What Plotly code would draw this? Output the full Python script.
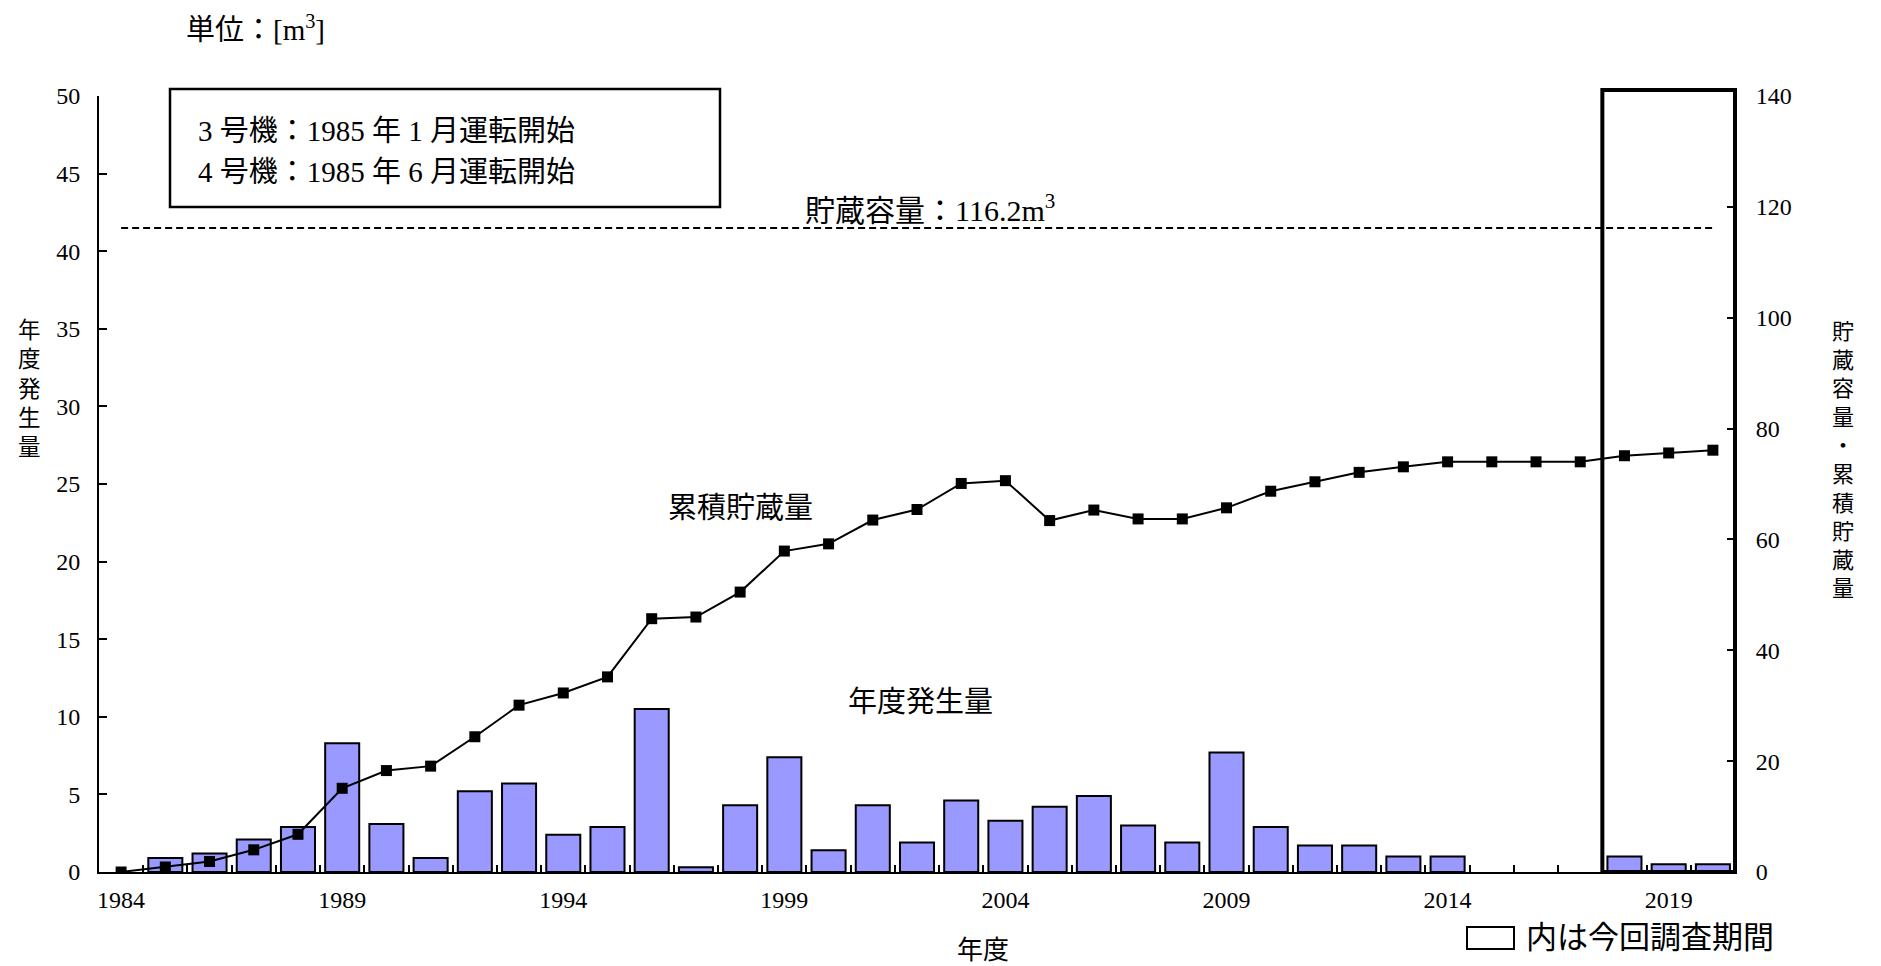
import plotly.graph_objects as go

# ---------------- data ----------------
years = list(range(1984, 2021))
annual = [0, 0.9, 1.2, 2.1, 2.9, 8.3, 3.1, 0.9, 5.2, 5.7,
          2.4, 2.9, 10.5, 0.3, 4.3, 7.4, 1.4, 4.3, 1.9, 4.6,
          3.3, 4.2, 4.9, 3.0, 1.9, 7.7, 2.9, 1.7, 1.7, 1.0,
          1.0, 0, 0, 0, 1.0, 0.5, 0.5]
cumulative = [0, 0.9, 1.9, 4.0, 6.8, 15.1, 18.3, 19.1, 24.4, 30.1,
              32.3, 35.2, 45.7, 46.0, 50.5, 57.9, 59.2, 63.5, 65.4, 70.1,
              70.6, 63.4, 65.3, 63.7, 63.7, 65.7, 68.7, 70.4, 72.1, 73.1,
              74.0, 74.0, 74.0, 74.0, 75.1, 75.6, 76.1]
capacity = 116.2
capacity_years = [1984, 2020]
x_tick_years = [1984, 1989, 1994, 1999, 2004, 2009, 2014, 2019]
left_ticks = [0, 5, 10, 15, 20, 25, 30, 35, 40, 45, 50]
right_ticks = [0, 20, 40, 60, 80, 100, 120, 140]
survey_start, survey_end = 2017.5, 2020.5

# ---------------- layout constants ----------------
W, H = 1881, 966
L, T, R, B = 99, 96, 146, 94
PW, PH = W - L - R, H - T - B
XR = [1983.5, 2020.5]
Y1R = [0, 50]
Y2R = [0, 140]

def fx(p):
    return (p - L) / PW

def fy(p):
    return (T + PH - p) / PH

SERIF = "Liberation Serif, Noto Sans CJK JP"

fig = go.Figure()
fig.add_trace(go.Bar(x=years, y=annual, width=0.77,
                     marker=dict(color="#9999FF",
                                 line=dict(color="black",
                                           width=[0 if v == 0 else 2 for v in annual])),
                     yaxis="y", showlegend=False))
fig.add_trace(go.Scatter(x=years, y=cumulative, mode="lines+markers",
                         line=dict(color="black", width=2),
                         marker=dict(symbol="square", size=11, color="black"),
                         yaxis="y2", showlegend=False))
fig.add_trace(go.Scatter(x=capacity_years, y=[capacity, capacity], mode="lines",
                         line=dict(color="black", width=2, dash="7px,4px"),
                         yaxis="y2", showlegend=False))

tickfont = dict(family="Liberation Serif", size=24, color="black")

fig.update_layout(
    width=W, height=H,
    margin=dict(l=L, r=R, t=T, b=B, pad=0),
    paper_bgcolor="white", plot_bgcolor="white",
    showlegend=False,
    xaxis=dict(range=XR, tickmode="array", tickvals=x_tick_years,
               ticktext=[str(v) for v in x_tick_years],
               ticks="inside", ticklen=7, tickcolor="rgba(0,0,0,0)",
               showline=True, linecolor="black", linewidth=2,
               showgrid=False, zeroline=False, tickfont=tickfont,
               ticklabelstandoff=5, layer="above traces",
               minor=dict(tickmode="linear", tick0=XR[0] + 1, dtick=1,
                          ticks="inside", ticklen=7, tickwidth=2,
                          tickcolor="black", showgrid=False)),
    yaxis=dict(range=Y1R, tickmode="array", tickvals=left_ticks,
               ticks="inside", ticklen=8, tickwidth=2, tickcolor="black",
               showline=True, linecolor="black", linewidth=2,
               showgrid=False, zeroline=False, tickfont=tickfont,
               ticklabelstandoff=12),
    yaxis2=dict(range=Y2R, overlaying="y", side="right", anchor="x",
                tickmode="array",
                tickvals=right_ticks, ticks="inside", ticklen=8, tickwidth=2,
                tickcolor="black", showline=True, linecolor="black", linewidth=2,
                showgrid=False, zeroline=False, tickfont=tickfont,
                ticklabelstandoff=14),
)

shapes = []
# survey period box
shapes.append(dict(type="rect", xref="x domain", yref="y domain",
                   x0=(survey_start - XR[0]) / (XR[1] - XR[0]),
                   x1=(survey_end - XR[0]) / (XR[1] - XR[0]),
                   y0=0, y1=141.1 / Y2R[1],
                   line=dict(color="black", width=4), fillcolor="rgba(0,0,0,0)"))
# info box
shapes.append(dict(type="rect", xref="paper", yref="paper",
                   x0=fx(170), x1=fx(720), y0=fy(89), y1=fy(207),
                   line=dict(color="black", width=2.5)))
# legend box
shapes.append(dict(type="rect", xref="paper", yref="paper",
                   x0=fx(1467), x1=fx(1514), y0=fy(927), y1=fy(949),
                   line=dict(color="black", width=2)))
fig.update_layout(shapes=shapes)

ann = []
def add(text, x, y, xanchor="center", size=28, yanchor="middle"):
    ann.append(dict(text=text, x=fx(x), y=fy(y), xref="paper", yref="paper",
                    xanchor=xanchor, yanchor=yanchor, showarrow=False,
                    font=dict(family=SERIF, size=size, color="black")))

add("単位：[m<sup>3</sup>]", 255, 28, size=29)
add("3 号機：1985 年 1 月運転開始", 196, 131, xanchor="left", size=29)
add("4 号機：1985 年 6 月運転開始", 196, 172, xanchor="left", size=29)
add("貯蔵容量：116.2m<sup>3</sup>", 930, 208, size=30)
add("累積貯蔵量", 740, 508, size=29)
add("年度発生量", 921, 702, size=29)
add("年度", 983, 950, size=26)
add("<br>".join("年度発生量"), 29, 389, size=22.5)
add("<br>".join("貯蔵容量・累積貯蔵量"), 1843, 460, size=22)
add("内は今回調査期間", 1524, 938, xanchor="left", size=31)
fig.update_layout(annotations=ann)

fig.write_html("out.html", config={"displayModeBar": False},
               post_script="document.body.style.margin='0';")
